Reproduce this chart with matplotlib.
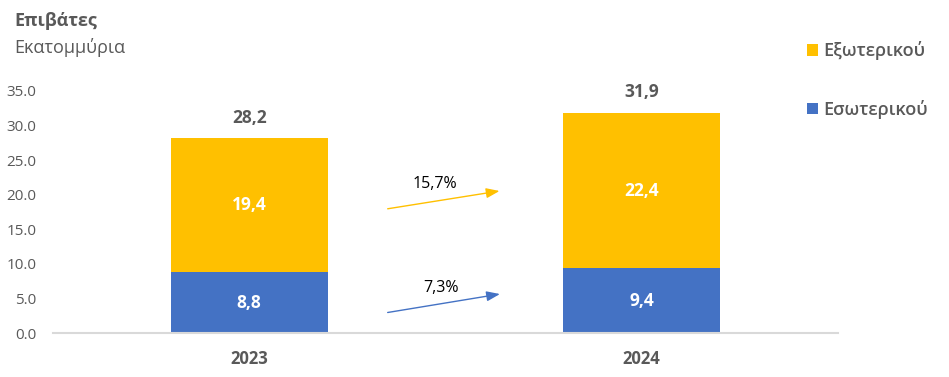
import numpy as np
import matplotlib.pyplot as plt

plt.rcParams['font.family'] = ['Open Sans', 'DejaVu Sans']

years = ["2023", "2024"]
domestic = [8.8, 9.4]
international = [19.4, 22.4]
totals = [28.2, 31.9]
growth_int = "15,7%"
growth_dom = "7,3%"

yellow = "#FFC000"
blue = "#4472C4"
grey = "#595959"

fig = plt.figure(figsize=(9.49, 3.77), dpi=100)
ax = fig.add_axes([0.0558, 0.1167, 0.827, 0.642])

x = np.arange(len(years))
w = 0.4
b1 = ax.bar(x, domestic, w, color=blue, label="Εσωτερικού")
b2 = ax.bar(x, international, w, bottom=domestic, color=yellow, label="Εξωτερικού")

def fmt(v):
    return f"{v:.1f}".replace(".", ",")

for i in range(len(years)):
    ax.text(x[i], domestic[i] / 2, fmt(domestic[i]), ha="center", va="center",
            color="white", fontsize=12.5, fontweight="bold")
    ax.text(x[i], domestic[i] + international[i] / 2, fmt(international[i]),
            ha="center", va="center", color="white", fontsize=12.5, fontweight="bold")
    ax.text(x[i], totals[i] + 2.9, fmt(totals[i]), ha="center", va="center",
            color=grey, fontsize=12.5, fontweight="bold", clip_on=False)

# growth arrows
ax.annotate("", xy=(0.645, 20.6), xytext=(0.346, 17.9),
            arrowprops=dict(arrowstyle="-|>,head_length=0.8,head_width=0.3",
                            color=yellow, lw=1))
ax.annotate("", xy=(0.646, 5.7), xytext=(0.346, 2.9),
            arrowprops=dict(arrowstyle="-|>,head_length=0.8,head_width=0.3",
                            color=blue, lw=1))
ax.text(0.473, 21.6, growth_int, ha="center", va="center", fontsize=11.5, color="black")
ax.text(0.488, 6.5, growth_dom, ha="center", va="center", fontsize=11.5, color="black")

ax.set_xlim(-0.5, 1.5)
ax.set_ylim(0, 35)
ax.set_yticks(np.arange(0, 36, 5))
ax.set_yticklabels([f"{v:.1f}" for v in np.arange(0, 36, 5)])
ax.set_xticks(x)
ax.set_xticklabels(years, fontweight="bold", fontsize=12)
ax.tick_params(axis="both", length=0, colors=grey)
ax.tick_params(axis="y", labelsize=11, pad=12)
ax.tick_params(axis="x", pad=12)
for s in ["top", "right", "left"]:
    ax.spines[s].set_visible(False)
ax.spines["bottom"].set_color("#D9D9D9")
ax.spines["bottom"].set_linewidth(1.5)

fig.text(0.015, 0.945, "Επιβάτες", fontsize=13, fontweight="bold", color=grey,
         va="center")
fig.text(0.015, 0.875, "Εκατομμύρια", fontsize=13, color=grey, va="center")

leg = fig.legend(handles=[b2, b1], loc="upper left", bbox_to_anchor=(0.843, 0.91),
                 frameon=False, prop={"size": 13, "weight": "semibold"},
                 handlelength=0.6, handleheight=0.6,
                 handletextpad=0.3, labelspacing=2.2, borderaxespad=0)
for t in leg.get_texts():
    t.set_color(grey)

fig.savefig("out.png", dpi=100)
